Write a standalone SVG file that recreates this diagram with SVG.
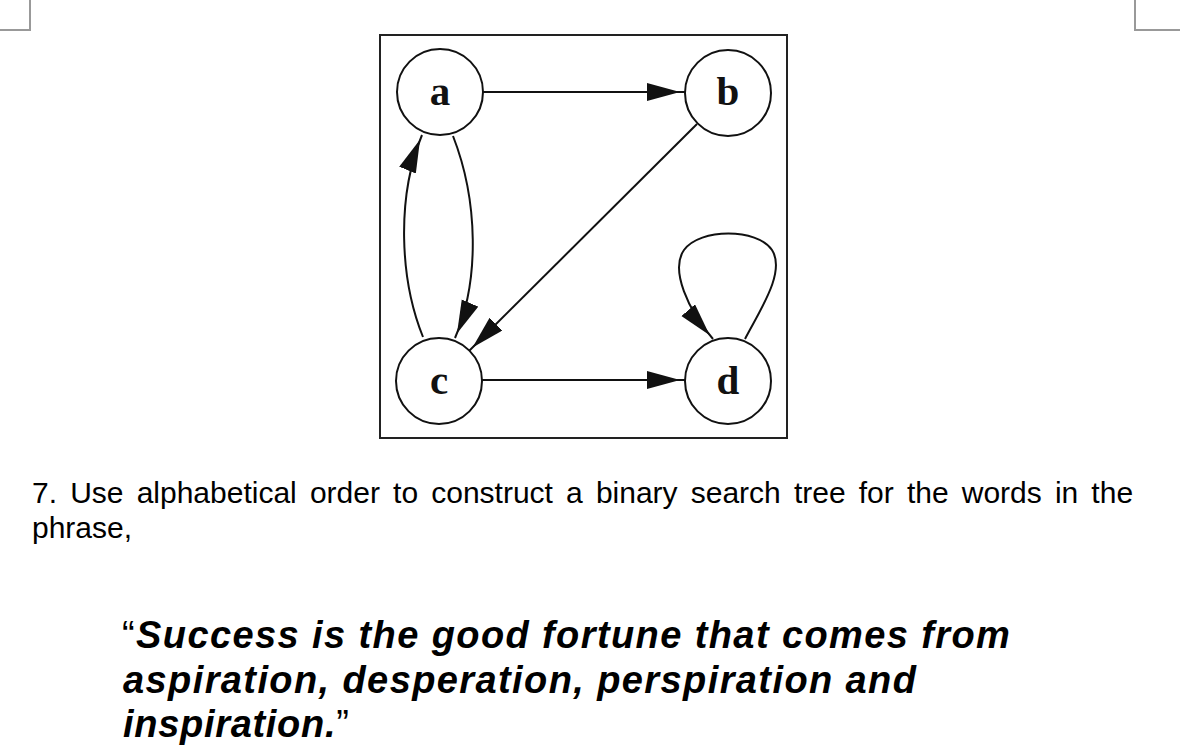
<svg xmlns="http://www.w3.org/2000/svg" width="1200" height="756" viewBox="0 0 1200 756">
<style>
.node circle{fill:#fff;stroke:#111;stroke-width:2}
.node text{font-family:"Liberation Serif","Times New Roman",serif;font-size:41px;font-weight:bold;fill:#111;text-anchor:middle}
.edge{fill:none;stroke:#111;stroke-width:2}
.crop{fill:none;stroke:#999;stroke-width:2}
.q{font-family:"Liberation Sans",Arial,sans-serif;fill:#000}
.bi{font-weight:bold;font-style:italic}
</style>
<defs>
<marker id="arr" markerUnits="userSpaceOnUse" markerWidth="40" markerHeight="20" refX="38" refY="9" orient="auto">
<path d="M0,0 L33,9 L0,18 Z" fill="#111"/>
</marker>
</defs>
<rect width="1200" height="756" fill="#fff"/>
<path class="crop" d="M0,30 H30 V0"/>
<path class="crop" d="M1135,0 V30 H1180"/>
<rect x="380" y="35" width="407" height="403" fill="none" stroke="#222" stroke-width="2"/>
<g id="edges">
<path class="edge" d="M483,92 L685,92" marker-end="url(#arr)"/>
<path class="edge" d="M482,380 L685,380" marker-end="url(#arr)"/>
<path class="edge" d="M453,136 C478,200 480,280 455,338" marker-end="url(#arr)"/>
<path class="edge" d="M423,337 C400,280 396,198 422,135" marker-end="url(#arr)"/>
<path class="edge" d="M697,124 L469,351" marker-end="url(#arr)"/>
<path class="edge" d="M745,339 C760,310 786,272 772,250 C757,228 700,228 684,250 C670,270 688,310 713,339" marker-end="url(#arr)"/>
</g>
<g id="node-a" class="node"><circle cx="440" cy="92" r="43"/><text x="440" y="105">a</text></g>
<g id="node-b" class="node"><circle cx="728" cy="93" r="43"/><text x="728" y="105">b</text></g>
<g id="node-c" class="node"><circle cx="439" cy="381" r="43"/><text x="439" y="394">c</text></g>
<g id="node-d" class="node"><circle cx="728" cy="381" r="43"/><text x="728" y="394">d</text></g>
<text class="q" x="32" y="503" font-size="30" word-spacing="4.8">7. Use alphabetical order to construct a binary search tree for the words in the</text>
<text class="q" x="32" y="538" font-size="30">phrase,</text>
<text class="q" x="122" y="648" font-size="38" letter-spacing="1.4"><tspan>“</tspan><tspan class="bi">Success is the good fortune that comes from</tspan></text>
<text class="q bi" x="123" y="693" font-size="38" letter-spacing="1.4">aspiration, desperation, perspiration and</text>
<text class="q" x="123" y="737" font-size="38" letter-spacing="0.7"><tspan class="bi">inspiration.</tspan><tspan>”</tspan></text>
</svg>
